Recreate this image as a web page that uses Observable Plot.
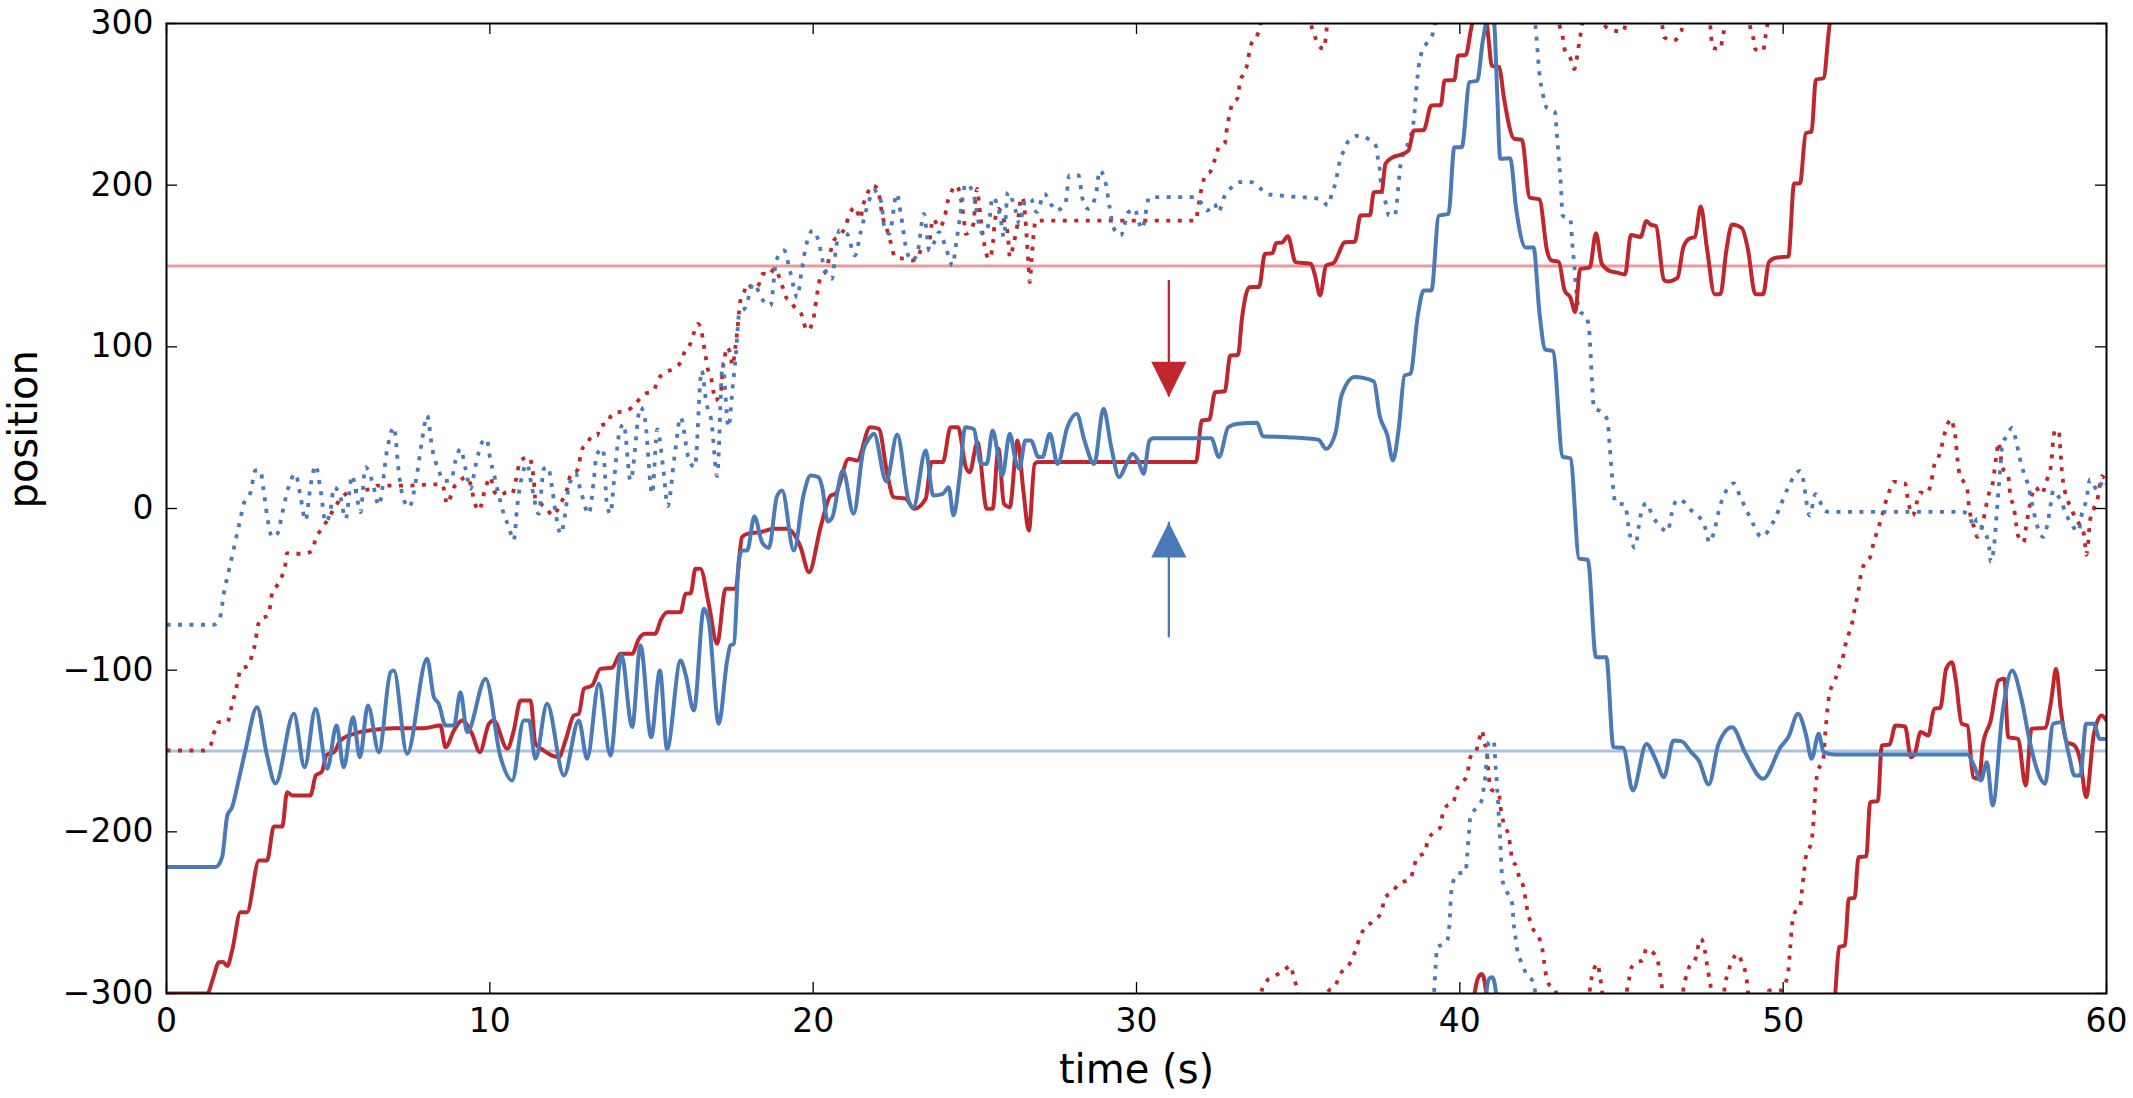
<!DOCTYPE html>
<html><head><meta charset="utf-8">
<script src="https://cdn.jsdelivr.net/npm/d3@7"></script>
<script src="https://cdn.jsdelivr.net/npm/@observablehq/plot@0.6"></script>
<style>html,body{margin:0;padding:0;background:#fff;overflow:hidden}</style>
</head><body><div id="chart"></div>
<script>
// ---- data (time in s, position); null = gap (value wraps past ±300) ----
const xTicks = [0, 10, 20, 30, 40, 50, 60];
const yTicks = [-300, -200, -100, 0, 100, 200, 300];
const refLines = [150, -150];
const arrowT = [31, 31];
const arrowTail = [141, -80];
const arrowTip = [69, -8.5];
const xLabel = "time (s)";
const yLabel = "position";

const redSolid = [[0,-300],[1.26,-300],[1.45,-290],[1.62,-280.6],[1.75,-280.5],[1.88,-283],[2.03,-273.4],[2.29,-249.7],[2.49,-249.7],[2.86,-217.7],[3.11,-217.7],[3.32,-196.7],[3.58,-196.7],[3.73,-175.5],[3.89,-177.5],[4.45,-177.5],[4.62,-165],[4.8,-163],[4.95,-152.5],[5.18,-150.7],[5.38,-143.5],[5.79,-139.4],[6.41,-136.9],[7.03,-135.9],[7.96,-135.9],[8.47,-134.2],[8.63,-147.6],[8.89,-137.3],[9.14,-131.1],[9.45,-139.4],[9.69,-150.7],[9.97,-133.2],[10.12,-131.1],[10.54,-148.6],[10.74,-137.3],[10.95,-118.8],[11.26,-118.8],[11.41,-145.5],[11.67,-149.7],[11.93,-152.8],[12.13,-153.8],[12.34,-143.5],[12.6,-128],[12.75,-127],[12.91,-111.5],[13.16,-109.5],[13.42,-99.2],[13.78,-98.5],[14.04,-89.9],[14.4,-89.9],[14.61,-80.6],[14.81,-77.5],[15.12,-77.5],[15.28,-69.3],[15.48,-64.1],[15.9,-64.1],[16.05,-52.8],[16.21,-52.4],[16.36,-37.3],[16.51,-37.3],[16.77,-59],[17.03,-83.7],[17.29,-49.7],[17.6,-49.7],[17.8,-17.7],[17.96,-15.7],[18.37,-14.6],[18.78,-12.6],[19.2,-12.6],[19.61,-23.9],[19.87,-39.4],[20.23,-11.5],[20.54,8],[20.69,9.1],[21.1,30.7],[21.36,29.7],[21.76,50.3],[22.03,49.3],[22.29,21.5],[22.49,7],[22.86,6],[23.12,-0.2],[23.48,6],[23.66,28.7],[24.01,28.7],[24.25,50.3],[24.48,50.3],[24.72,25.6],[24.84,22.5],[25.08,41],[25.37,-0.2],[25.55,-0.2],[25.73,36.9],[25.9,2.9],[26.08,0.8],[26.32,42.1],[26.5,11.2],[26.67,-13.6],[26.85,27.6],[26.97,28.7],[31.84,28.7],[32.02,54.4],[32.25,55],[32.43,71.9],[32.73,72.5],[32.9,94.6],[33.14,95],[33.26,117.3],[33.49,136.9],[33.79,137],[33.97,157.5],[34.21,158],[34.32,164.3],[34.5,164.5],[34.68,168.4],[34.92,152.4],[35.39,151.4],[35.51,145],[35.68,131.8],[35.86,150.3],[36.1,152],[36.45,164.7],[36.75,165],[36.93,181.2],[37.22,181.5],[37.34,195.7],[37.58,196],[37.7,213.2],[37.93,217.3],[38.11,218.4],[38.41,221.4],[38.58,233.8],[38.88,234],[39.12,249.3],[39.41,249.5],[39.53,264.7],[39.83,265],[39.95,280.2],[40.18,280.5],[40.36,298],[40.45,306],
null,
[40.42,-306],[40.5,-295],[40.6,-289],[40.68,-288],[40.76,-292],[40.82,-300],[40.86,-306],
null,
[40.8,306],[40.86,296],[40.92,284],[40.98,274],[41.22,273],[41.36,254.5],[41.68,228.7],[41.92,228.1],[42.16,192.3],[42.46,191.2],[42.7,159.2],[42.82,153.6],[43.06,152.5],[43.24,134.9],[43.42,130.4],[43.57,121.6],[43.72,148.1],[44.02,149.2],[44.21,170.2],[44.39,151.4],[44.63,147],[44.87,145.9],[45.11,144.8],[45.29,169.1],[45.59,168],[45.77,177.9],[45.89,175.7],[46.07,174.6],[46.31,141.5],[46.43,140.4],[46.73,142.6],[46.91,161.4],[47.09,166.9],[47.27,168],[47.45,186.8],[47.64,161.4],[47.88,132.6],[48.06,132.6],[48.24,159.2],[48.42,175.7],[48.72,173.5],[48.9,161.4],[49.14,132.6],[49.38,132.6],[49.56,152.5],[49.8,155.2],[50.16,155.8],[50.34,201.1],[50.52,201.1],[50.7,232.1],[50.88,233.2],[51.01,265.2],[51.25,266.3],[51.43,298.3],[51.5,306],
null,
[51.58,-306],[51.61,-300],[51.73,-271.3],[51.91,-270.3],[52.03,-241.4],[52.21,-240.8],[52.33,-215.7],[52.57,-215.2],[52.69,-181.6],[52.93,-181],[53.05,-146.6],[53.29,-146],[53.47,-134.2],[53.77,-134.8],[53.95,-153.8],[54.07,-151.7],[54.25,-138.3],[54.49,-140.4],[54.67,-123.9],[54.86,-123.3],[55.04,-99.2],[55.22,-95.1],[55.34,-106.4],[55.52,-133.2],[55.7,-134.2],[55.88,-166.2],[56.06,-167.2],[56.18,-145.6],[56.42,-131.1],[56.66,-106.4],[56.84,-105.3],[56.96,-141.4],[57.26,-142.5],[57.5,-171.3],[57.68,-136.3],[58.1,-135.7],[58.29,-118.8],[58.44,-99.2],[58.59,-124.9],[58.77,-144.5],[59.01,-146.6],[59.19,-155.9],[59.37,-178.5],[59.61,-139.4],[59.85,-128],[60,-131]];

const blueSolid = [[0,-221.8],[1.52,-221.8],[1.72,-215.7],[1.88,-190],[2.03,-184.7],[2.24,-167.2],[2.44,-149.7],[2.8,-122.9],[3.1,-152],[3.37,-170],[3.94,-127],[4.27,-160],[4.61,-123.9],[4.97,-161],[5.26,-134.2],[5.48,-160],[5.77,-129.1],[5.98,-153.8],[6.23,-121.8],[6.57,-150.7],[6.93,-101.2],[7.03,-100.2],[7.44,-151.7],[8.06,-93],[8.27,-116.7],[8.42,-120.8],[8.63,-134.2],[8.89,-134.2],[9.09,-113.6],[9.3,-138.3],[9.87,-105.3],[10.33,-153.8],[10.69,-168.2],[11.05,-131.1],[11.21,-131.1],[11.41,-154.8],[11.77,-120.8],[12.29,-165.1],[12.75,-131.1],[13.01,-154.8],[13.37,-108.4],[13.73,-152.8],[14.07,-90.5],[14.4,-135.2],[14.66,-84.7],[14.99,-141.4],[15.26,-100.2],[15.48,-148.6],[15.9,-94],[16.05,-102.3],[16.31,-124.9],[16.62,-62],[16.77,-69.3],[17.08,-133.2],[17.34,-94],[17.44,-84.7],[17.55,-83.7],[17.7,-32.2],[17.8,-26],[17.96,-26],[18.18,-5],[18.43,-21.3],[18.63,-24.4],[18.88,7.5],[19.04,11.1],[19.4,-26],[19.71,9.1],[19.92,20.4],[20.16,19.4],[20.28,13.2],[20.45,-8],[20.58,-6],[20.92,23.5],[21.25,-3.3],[21.55,35.9],[21.76,44.1],[21.88,46.2],[22.26,16.8],[22.6,45.7],[22.95,5],[23.1,0.8],[23.48,35.9],[23.71,8.1],[24.01,9.1],[24.19,13.2],[24.34,-4.3],[24.54,21.4],[24.7,50.3],[24.96,49.3],[25.19,27.6],[25.37,27.6],[25.55,48.3],[25.73,31.8],[25.85,20.4],[26.08,46.2],[26.26,29.7],[26.38,24.6],[26.56,42.1],[26.73,42.1],[26.97,31.8],[27.09,31.8],[27.32,46.2],[27.56,27.6],[27.86,50.3],[28.15,58.6],[28.39,42.1],[28.69,27.6],[28.98,61.7],[29.22,37.9],[29.46,19.4],[29.69,27.6],[29.87,33.8],[30.05,29.7],[30.22,21.4],[30.4,42.1],[30.52,43.5],[32.31,43.5],[32.55,31.8],[32.84,50.3],[33.14,52.4],[33.73,53],[33.91,44.7],[34.68,44.1],[35.63,42.5],[35.86,36.9],[36.16,47.2],[36.34,69.9],[36.75,81.3],[37.34,78.6],[37.52,57.5],[37.76,45.2],[37.93,29.7],[38.11,49.3],[38.29,82.3],[38.47,83.3],[38.7,119.4],[38.88,134.9],[39.12,134.9],[39.35,181.2],[39.65,182.3],[39.83,223.5],[40.06,223.5],[40.3,263.7],[40.54,264.7],[40.7,288],[40.8,300],[40.84,306],
null,
[40.8,-306],[40.84,-296],[40.92,-290.5],[41.0,-290],[41.07,-293],[41.12,-300],[41.15,-306],
null,
[41.03,306],[41.07,298.8],[41.15,260],[41.25,216.3],[41.56,216.6],[41.74,185.7],[42.04,161.4],[42.28,161.4],[42.46,121.6],[42.64,98.4],[42.88,97.3],[43.18,32.1],[43.42,31],[43.69,-31],[43.96,-31.7],[44.21,-92],[44.53,-92],[44.75,-147.6],[45.05,-148],[45.35,-174.4],[45.77,-145.6],[46.07,-155.9],[46.31,-166.2],[46.61,-143.5],[46.85,-143.9],[47.15,-150.7],[47.39,-155.9],[47.7,-170.7],[48,-145.6],[48.42,-135.3],[48.84,-151.7],[49.38,-167.2],[49.92,-147.6],[50.16,-141.4],[50.46,-127],[50.7,-139.4],[50.88,-154.8],[51.1,-139.4],[51.25,-150.7],[51.61,-152.2],[55.7,-152.2],[55.88,-158],[56.12,-168.2],[56.3,-156.9],[56.48,-183.7],[56.78,-127],[57.08,-100.2],[57.38,-118.8],[57.62,-143.5],[57.86,-162.1],[58.1,-170.3],[58.35,-133.2],[58.59,-132.2],[58.83,-151.7],[59.01,-165.2],[59.19,-165.2],[59.37,-133.2],[59.61,-133.2],[59.79,-142.5],[60,-142.5]];

const blueDotted = [[0,-71.9],[1.46,-71.9],[1.67,-66.2],[1.77,-52.8],[1.93,-38.3],[2.08,-24.9],[2.24,-10.5],[2.39,2.9],[2.6,10.1],[2.75,23.5],[2.9,23.5],[3.0,12],[3.11,-4.3],[3.27,-17.7],[3.42,-16],[3.58,-3],[3.73,10.1],[3.99,21.5],[4.14,8],[4.3,-7.4],[4.45,13.2],[4.61,26.6],[4.76,12.2],[4.92,-8.4],[5.07,-1.2],[5.18,13.2],[5.38,7],[5.54,-6.4],[5.74,20.4],[5.88,8],[6.0,-2.3],[6.15,25.6],[6.36,17],[6.57,1.9],[6.82,35.9],[7.03,50.3],[7.19,21.5],[7.3,8],[7.5,0.8],[7.75,21.5],[7.91,43.1],[8.06,57.5],[8.22,36.9],[8.42,23.5],[8.58,17],[8.8,17.5],[8.94,29.7],[9.09,36.9],[9.25,24.5],[9.4,12.2],[9.56,26.6],[9.76,41],[9.9,43],[10.02,29.7],[10.15,19.4],[10.28,8],[10.43,-3.3],[10.59,-11.6],[10.74,-19.8],[10.85,1.9],[11.0,20.4],[11.15,27.6],[11.3,13.2],[11.51,-3.3],[11.67,24.6],[11.8,25.6],[11.93,12],[12.03,-2],[12.19,-15.7],[12.34,-2],[12.44,13.2],[12.65,21.5],[12.81,11.1],[13.06,-3.3],[13.22,18.4],[13.3,33],[13.5,37],[13.62,2.9],[13.73,-3.3],[13.84,17],[13.99,45.2],[14.14,52.4],[14.35,17.3],[14.66,62.7],[14.8,55],[15.02,9.1],[15.18,49],[15.37,23.5],[15.5,1.5],[15.71,31.8],[15.9,56.5],[16.15,30.7],[16.34,25.6],[16.55,85.4],[16.7,65],[16.85,54.4],[17.03,20],[17.2,89.5],[17.38,50.3],[17.5,73],[17.62,97.7],[17.71,120.4],[17.91,124.5],[18.15,139],[18.45,128.7],[18.68,125.6],[18.86,153.4],[19.1,159.6],[19.28,147.2],[19.51,130.7],[19.63,145.2],[19.75,159.6],[19.99,172],[20.16,165.8],[20.34,149.3],[20.58,142.1],[20.7,159.6],[20.81,172],[21.05,169.9],[21.29,156.5],[21.47,171],[21.7,188.5],[21.88,196.7],[22.12,188.5],[22.18,176.1],[22.35,169.9],[22.59,194.6],[22.71,182.3],[22.89,159.6],[23.06,153.4],[23.24,159.6],[23.42,182.3],[23.6,159.6],[23.77,165.8],[23.89,171],[24.13,159.6],[24.31,150.3],[24.42,163.7],[24.54,180.2],[24.72,200.8],[24.96,194.6],[25.08,180.2],[25.25,169.9],[25.43,176.1],[25.55,192.6],[25.79,180.2],[25.9,167.8],[26.02,195.7],[26.26,184.3],[26.38,176.1],[26.56,190.5],[26.73,191.5],[26.91,183.3],[27.15,194.6],[27.38,187.4],[27.5,184.3],[27.8,188.5],[27.92,206],[28.21,206],[28.33,191.5],[28.51,185.4],[28.74,193.6],[28.86,209.1],[29.04,201.9],[29.16,187.4],[29.28,174],[29.51,168.9],[29.75,183.3],[29.93,185.4],[30.17,173],[30.4,192.6],[31.82,192.6],[32.06,187.4],[32.18,184.3],[32.41,188.5],[32.53,183.3],[32.71,192.6],[32.95,198.8],[33.18,201.9],[33.55,201.9],[33.79,198.8],[34.03,194.6],[34.44,193.6],[35.03,192.6],[35.51,192],[35.74,190.5],[35.92,187.4],[36.04,194.6],[36.16,201.9],[36.28,214.2],[36.39,220.4],[36.57,227.6],[36.87,230.7],[37.16,228.7],[37.4,224.5],[37.46,217.3],[37.52,210.1],[37.58,196.7],[37.7,189.5],[37.81,181.2],[37.99,181.2],[38.05,188.5],[38.11,201.9],[38.15,210.1],[38.23,218.4],[38.41,226.6],[38.58,241],[38.64,255.5],[38.7,268.9],[38.82,282.3],[39.0,288.5],[39.18,294.6],[39.28,306],
null,
[39.17,-306],[39.2,-300],[39.25,-283.7],[39.3,-271.3],[39.51,-269.3],[39.61,-267.2],[39.69,-253.8],[39.73,-238.3],[39.79,-231.1],[39.92,-226],[40.18,-224.9],[40.23,-213.6],[40.28,-201.2],[40.33,-189.9],[40.54,-184.7],[40.69,-179.6],[40.74,-172.4],[40.79,-165.1],[40.82,-157.9],[40.85,-151.7],[40.9,-144.5],[41.05,-143.5],[41.08,-150.7],[41.1,-157.9],[41.13,-165.1],[41.15,-172.4],[41.18,-179.6],[41.21,-193],[41.24,-201.2],[41.26,-209.5],[41.28,-218.8],[41.31,-229.1],[41.41,-235.3],[41.62,-244.5],[41.67,-257.9],[41.72,-265.1],[41.77,-272.4],[41.88,-279.6],[42.03,-286.8],[42.29,-294],[42.36,-306],
null,
[42.3,306],[42.34,298.3],[42.4,283.9],[42.46,269.6],[42.58,255.2],[42.7,247.5],[42.94,245.3],[43.0,232],[43.06,216.6],[43.12,201.1],[43.18,181.2],[43.42,179],[43.48,163.6],[43.54,150.3],[43.6,134.8],[43.72,121.6],[43.9,119.4],[44.0,110.5],[44.05,92.9],[44.09,77.4],[44.15,61.9],[44.39,59.7],[44.57,54.2],[44.63,39.9],[44.69,24.4],[44.75,11.1],[44.81,3.4],[45.11,2.3],[45.23,-13.2],[45.41,-24.2],[45.59,-4.3],[45.77,3.4],[45.95,-4.3],[46.19,-10.9],[46.43,-14.3],[46.55,-3.2],[46.73,5.6],[46.97,3.4],[47.15,-1],[47.45,-6.5],[47.64,-15.4],[47.7,-20.9],[47.88,-13.2],[48.0,-2.1],[48.24,11.1],[48.48,15.6],[48.66,7.8],[48.84,0.1],[49.08,-9.8],[49.32,-17.6],[49.56,-13.2],[49.74,-6.5],[49.86,-1],[50.16,13.4],[50.34,20],[50.52,23.3],[50.64,15.6],[50.7,6.7],[50.82,-4.3],[51.0,8.9],[51.12,5.6],[51.25,-1],[51.4,-2.1],[55.52,-2.1],[55.76,-4.3],[55.88,-10.9],[56.0,-6.5],[56.18,-13.2],[56.36,-22],[56.42,-33],[56.54,-19.8],[56.6,-4.3],[56.66,11.1],[56.72,26.6],[56.78,39.9],[56.9,44.3],[57.08,49.8],[57.2,42.1],[57.32,31],[57.44,22.2],[57.56,15.6],[57.68,4.5],[57.86,-10.9],[58.04,-17.6],[58.16,-10.9],[58.29,4.5],[58.35,11.1],[58.59,4.5],[58.77,-4.3],[58.95,-10.9],[59.13,-14.3],[59.25,-2.1],[59.37,4.5],[59.49,17.8],[59.73,11.1],[59.91,17.8],[60,15]];

const redDotted = [[0,-149.7],[1.15,-149.7],[1.36,-146.6],[1.46,-139.4],[1.62,-132.1],[1.88,-132.1],[2.03,-120.8],[2.13,-113.6],[2.21,-106.4],[2.29,-99.2],[2.55,-97.1],[2.65,-89.9],[2.75,-82.7],[2.8,-75.5],[2.91,-68.2],[3.14,-66.2],[3.22,-58.9],[3.27,-51.7],[3.42,-47.6],[3.58,-41.4],[3.68,-34.2],[3.73,-27.6],[3.89,-28],[4.25,-28],[4.51,-26],[4.61,-18.8],[4.76,-13.6],[4.97,-7.4],[5.18,-0.2],[5.43,7],[5.64,10.1],[5.9,11.1],[6.36,12.2],[6.52,14.2],[7.13,14.2],[7.55,14.2],[8.27,14.9],[8.53,14.9],[8.68,2.9],[8.89,13.2],[9.04,16.3],[9.25,19.4],[9.4,15.3],[9.5,6],[9.66,-1.2],[9.87,13.2],[10.02,19.4],[10.12,11.1],[10.28,8],[10.54,10.1],[10.69,9.1],[10.79,16.3],[10.95,29.7],[11.21,31.8],[11.31,25.6],[11.36,17.3],[11.41,5],[11.57,2.9],[11.77,-0.2],[11.93,-4.3],[12.08,-1.2],[12.24,5],[12.39,12.2],[12.49,20.4],[12.7,23.5],[12.86,36.9],[13.01,40],[13.17,45.2],[13.32,45.2],[13.42,51.3],[13.63,52.4],[13.78,58.6],[13.99,59.6],[14.25,60.6],[14.5,64.8],[14.76,70.5],[15.07,73],[15.19,79.2],[15.37,83.7],[15.67,86.4],[15.9,90.5],[16.02,96.7],[16.2,101.9],[16.32,109.1],[16.44,114.2],[16.55,109.1],[16.61,101.9],[16.67,94.7],[16.73,87.4],[16.85,80.2],[16.91,73],[16.97,66.8],[17.15,73],[17.2,85.4],[17.26,92.6],[17.32,99.8],[17.44,95.7],[17.5,88.5],[17.6,100.8],[17.68,115.3],[17.71,122.5],[17.76,129.7],[17.86,133.8],[17.97,139],[18.15,135.9],[18.33,139],[18.45,145.2],[18.62,144.1],[18.8,148.2],[19.04,137.9],[19.16,130.7],[19.33,127.6],[19.45,123.5],[19.63,120.4],[19.81,110.1],[19.99,115.3],[20.05,122.5],[20.1,129.7],[20.16,136.9],[20.22,143.1],[20.4,147.2],[20.52,157.5],[20.64,165.8],[20.81,168.9],[20.99,174],[21.11,181.2],[21.29,186.4],[21.47,179.2],[21.52,185.4],[21.64,192.6],[21.82,199.8],[22.0,197.7],[22.06,191.5],[22.12,183.3],[22.29,172],[22.41,163.7],[22.53,155.5],[22.83,154.4],[23.06,153.4],[23.24,155.5],[23.36,160.6],[23.54,159.6],[23.71,179.2],[23.89,174],[24.07,180.2],[24.13,187.4],[24.25,194.6],[24.42,199.8],[24.54,194.6],[24.66,179.2],[24.72,169.9],[24.96,176.1],[25.02,192.6],[25.08,197.7],[25.13,188.5],[25.25,168.9],[25.31,161.7],[25.43,154.4],[25.55,161.7],[25.61,176.1],[25.73,185.4],[25.79,184.3],[25.9,178.2],[26.02,169.9],[26.08,155.5],[26.2,163.7],[26.32,176.1],[26.44,192.6],[26.5,190.5],[26.56,180.2],[26.61,165.8],[26.66,150],[26.7,140],[26.76,155],[26.82,170],[26.88,178.1],[31.84,178.1],[31.9,185.4],[32.02,198.8],[32.13,206],[32.31,209.1],[32.43,216.3],[32.55,223.5],[32.73,225.6],[32.78,232.8],[32.84,240],[32.96,250.3],[33.14,254.4],[33.2,264.7],[33.32,268.9],[33.44,276.1],[33.49,282.3],[33.55,287.4],[33.73,292.6],[33.83,298.8],[33.87,306],
null,
[33.82,-306],[33.85,-300],[34.04,-291.9],[34.3,-288.9],[34.56,-285.8],[34.76,-282.7],[34.87,-290.9],[34.97,-298.1],[35.0,-306],
null,
[35.35,306],[35.4,299.5],[35.51,292.6],[35.63,286.4],[35.8,284.3],[35.86,292.6],[35.9,300],[35.93,306],
null,
[35.88,-306],[35.92,-299],[36.15,-295],[36.31,-287.8],[36.62,-280.6],[36.77,-273.4],[36.93,-264.1],[37.08,-258.9],[37.29,-255.9],[37.6,-248.6],[37.65,-241.4],[37.91,-237.3],[38.11,-232.2],[38.47,-229.1],[38.58,-221.9],[38.68,-215.7],[38.94,-212.6],[38.99,-206.4],[39.2,-200.2],[39.4,-197.1],[39.45,-190.9],[39.56,-184.7],[39.81,-181.6],[39.87,-175.5],[40.07,-169.3],[40.23,-165.1],[40.28,-157.9],[40.38,-151.7],[40.49,-150.7],[40.59,-143.5],[40.69,-137.3],[40.74,-143.5],[40.84,-150.7],[40.87,-159],[40.9,-166.2],[40.95,-173.4],[41.21,-176.5],[41.26,-184.7],[41.31,-190.9],[41.41,-197.1],[41.52,-203.3],[41.57,-210.5],[41.62,-217.7],[41.77,-221.8],[41.82,-227],[41.98,-235.2],[42.03,-241.4],[42.08,-247.6],[42.19,-255.9],[42.24,-259],[42.44,-265.1],[42.55,-272.4],[42.6,-279.6],[42.65,-286.8],[42.75,-294],[42.96,-298.1],[43.0,-306],
null,
[42.98,306],[43.08,299],[43.18,291.7],[43.24,284],[43.42,278.5],[43.54,271.8],[43.6,276.2],[43.66,284],[43.72,291.7],[43.78,299.4],[43.82,306],
null,
[43.98,-306],[44.02,-298.1],[44.15,-284.7],[44.27,-281.6],[44.33,-289.9],[44.39,-296.1],[44.43,-306],
null,
[44.42,306],[44.47,299],[44.69,296],[45.05,295],[45.11,298.3],[45.15,306],
null,
[45.14,-306],[45.17,-298.1],[45.23,-291.9],[45.29,-284.7],[45.47,-280.6],[45.65,-279.6],[45.77,-272.4],[46.01,-275.4],[46.13,-280.6],[46.19,-287.8],[46.25,-296.1],[46.29,-306],
null,
[46.22,306],[46.26,299],[46.31,291.7],[46.61,289.5],[46.85,295],[46.9,306],
null,
[46.88,-306],[46.91,-298.1],[46.97,-291.9],[47.09,-283.7],[47.27,-279.6],[47.45,-266.2],[47.58,-273.4],[47.64,-281.6],[47.7,-288.9],[47.76,-296.1],[47.79,-306],
null,
[47.72,306],[47.76,295],[47.82,285.1],[48.06,284],[48.12,290.6],[48.18,297.2],[48.22,306],
null,
[48.15,-306],[48.18,-298.1],[48.3,-286.8],[48.48,-277.5],[48.6,-275.4],[48.72,-280.6],[48.84,-287.8],[48.9,-296.1],[48.94,-306],
null,
[48.92,306],[48.97,299],[49.08,290.6],[49.14,284],[49.38,282.9],[49.44,290.6],[49.5,297.2],[49.54,306],
null,
[49.52,-306],[49.56,-298.1],[49.92,-298.1],[50.1,-291.9],[50.16,-285.8],[50.22,-271.3],[50.28,-256.9],[50.34,-250.7],[50.52,-246.6],[50.58,-236.3],[50.64,-226],[50.7,-215.7],[50.88,-205.4],[50.94,-193],[50.98,-179.6],[51.0,-172.4],[51.06,-164.1],[51.25,-153.8],[51.28,-144.5],[51.32,-135.3],[51.37,-123.9],[51.43,-114.6],[51.55,-108.4],[51.67,-102.3],[51.73,-98.1],[51.85,-92],[51.91,-85.8],[52.03,-77.5],[52.15,-69.3],[52.21,-62.1],[52.33,-50.7],[52.39,-42.5],[52.51,-34.2],[52.69,-30.1],[52.8,-21],[52.93,-13],[53.05,-5],[53.17,4],[53.29,11],[53.41,16.5],[53.77,15.5],[53.83,8.9],[53.89,2.3],[54.01,-4.3],[54.13,3.4],[54.25,10],[54.37,8.9],[54.55,13.4],[54.67,26.6],[54.79,31],[54.92,39.9],[55.04,49.8],[55.22,55.3],[55.28,48.7],[55.34,42.1],[55.37,34.3],[55.41,27.7],[55.46,20],[55.58,16.6],[55.7,11.1],[55.74,2.3],[55.82,-6.5],[55.94,-13.2],[56.0,-17.6],[56.18,-8.7],[56.24,-2.1],[56.36,8.9],[56.48,15.5],[56.54,24.4],[56.6,33.2],[56.66,41],[56.78,25.5],[56.96,20],[57.02,8.9],[57.14,0.1],[57.2,-8.7],[57.26,-16.5],[57.44,-20.9],[57.5,-13.2],[57.56,-5.4],[57.62,1.2],[57.8,13.3],[57.98,8.9],[58.16,17.8],[58.29,27.7],[58.35,42.1],[58.41,48.7],[58.53,47.6],[58.56,39.9],[58.59,32.1],[58.61,25.5],[58.65,17.8],[58.71,11.1],[58.83,3.4],[58.95,-2.1],[59.13,-8.7],[59.31,-16.5],[59.37,-28.6],[59.43,-22],[59.49,-7.6],[59.61,0.1],[59.73,6.7],[59.85,20],[59.97,17.8],[60,17]];

// ---- styling ----
const RED = "#c0272d", BLUE = "#4a7ab7", PINK = "#eb9a9d", LIGHTBLUE = "#a9c2e4";
const W = 2133, H = 1098, mL = 166, mR = 27, mT = 23, mB = 105;
const iW = W - mL - mR, iH = H - mT - mB, tickLen = 11;
const px = d => d ? d[0] : NaN;
const py = d => d ? d[1] : NaN;
const fmt = d => d < 0 ? "\u2212" + Math.abs(d) : String(d);
function tri(dir) {
  return { draw(ctx, size) {
    const r = Math.sqrt(size / Math.PI);
    ctx.moveTo(0, 0); ctx.lineTo(r, dir * 2 * r); ctx.lineTo(-r, dir * 2 * r); ctx.closePath();
  } };
}
const dotted = {strokeWidth: 3.8, strokeDasharray: "4,7.5", strokeLinecap: "butt", strokeLinejoin: "round", curve: "monotone-x", clip: true};
const solid = {strokeWidth: 4, strokeLinejoin: "round", strokeLinecap: "round", curve: "monotone-x", clip: true};

const chart = Plot.plot({
  width: W, height: H,
  marginLeft: mL, marginRight: mR, marginTop: mT, marginBottom: mB,
  style: {fontFamily: "'DejaVu Sans', sans-serif", fontSize: "33px", background: "#fff", color: "#000"},
  x: {domain: [0, 60], ticks: xTicks, tickSize: 0, tickPadding: 15, tickFormat: fmt, label: null},
  y: {domain: [-300, 300], ticks: yTicks, tickSize: 0, tickPadding: 13, tickFormat: fmt, label: null},
  marks: [
    Plot.ruleY([refLines[0]], {y: d => d, stroke: PINK, strokeWidth: 3}),
    Plot.ruleY([refLines[1]], {y: d => d, stroke: LIGHTBLUE, strokeWidth: 3}),
    Plot.line(redDotted, {x: px, y: py, stroke: RED, ...dotted}),
    Plot.line(blueDotted, {x: px, y: py, stroke: BLUE, ...dotted}),
    Plot.line(redSolid, {x: px, y: py, stroke: RED, ...solid}),
    Plot.line(blueSolid, {x: px, y: py, stroke: BLUE, ...solid}),
    Plot.ruleX([0], {x: () => arrowT[0], y1: () => arrowTail[0], y2: () => arrowTip[0], stroke: RED, strokeWidth: 2.3}),
    Plot.ruleX([1], {x: () => arrowT[1], y1: () => arrowTail[1], y2: () => arrowTip[1], stroke: BLUE, strokeWidth: 2.3}),
    Plot.dot([0], {x: () => arrowT[0], y: () => arrowTip[0], symbol: tri(-1), r: 17.6, fill: RED, stroke: "none"}),
    Plot.dot([1], {x: () => arrowT[1], y: () => arrowTip[1], symbol: tri(1), r: 17.6, fill: BLUE, stroke: "none"}),
    Plot.tickX(xTicks, {x: d => d, insetTop: iH - tickLen, stroke: "#000", strokeWidth: 1.3}),
    Plot.tickX(xTicks, {x: d => d, insetBottom: iH - tickLen, stroke: "#000", strokeWidth: 1.3}),
    Plot.tickY(yTicks, {y: d => d, insetRight: iW - tickLen, stroke: "#000", strokeWidth: 1.3}),
    Plot.tickY(yTicks, {y: d => d, insetLeft: iW - tickLen, stroke: "#000", strokeWidth: 1.3}),
    Plot.frame({stroke: "#000", strokeWidth: 2}),
    Plot.text([xLabel], {frameAnchor: "bottom", lineAnchor: "middle", dy: 77, text: d => d, fontSize: 40, fill: "#000"}),
    Plot.text([yLabel], {frameAnchor: "left", lineAnchor: "middle", dx: -142, rotate: -90, text: d => d, fontSize: 40, fill: "#000"})
  ]
});
document.getElementById("chart").appendChild(chart);
</script>
</body></html>
